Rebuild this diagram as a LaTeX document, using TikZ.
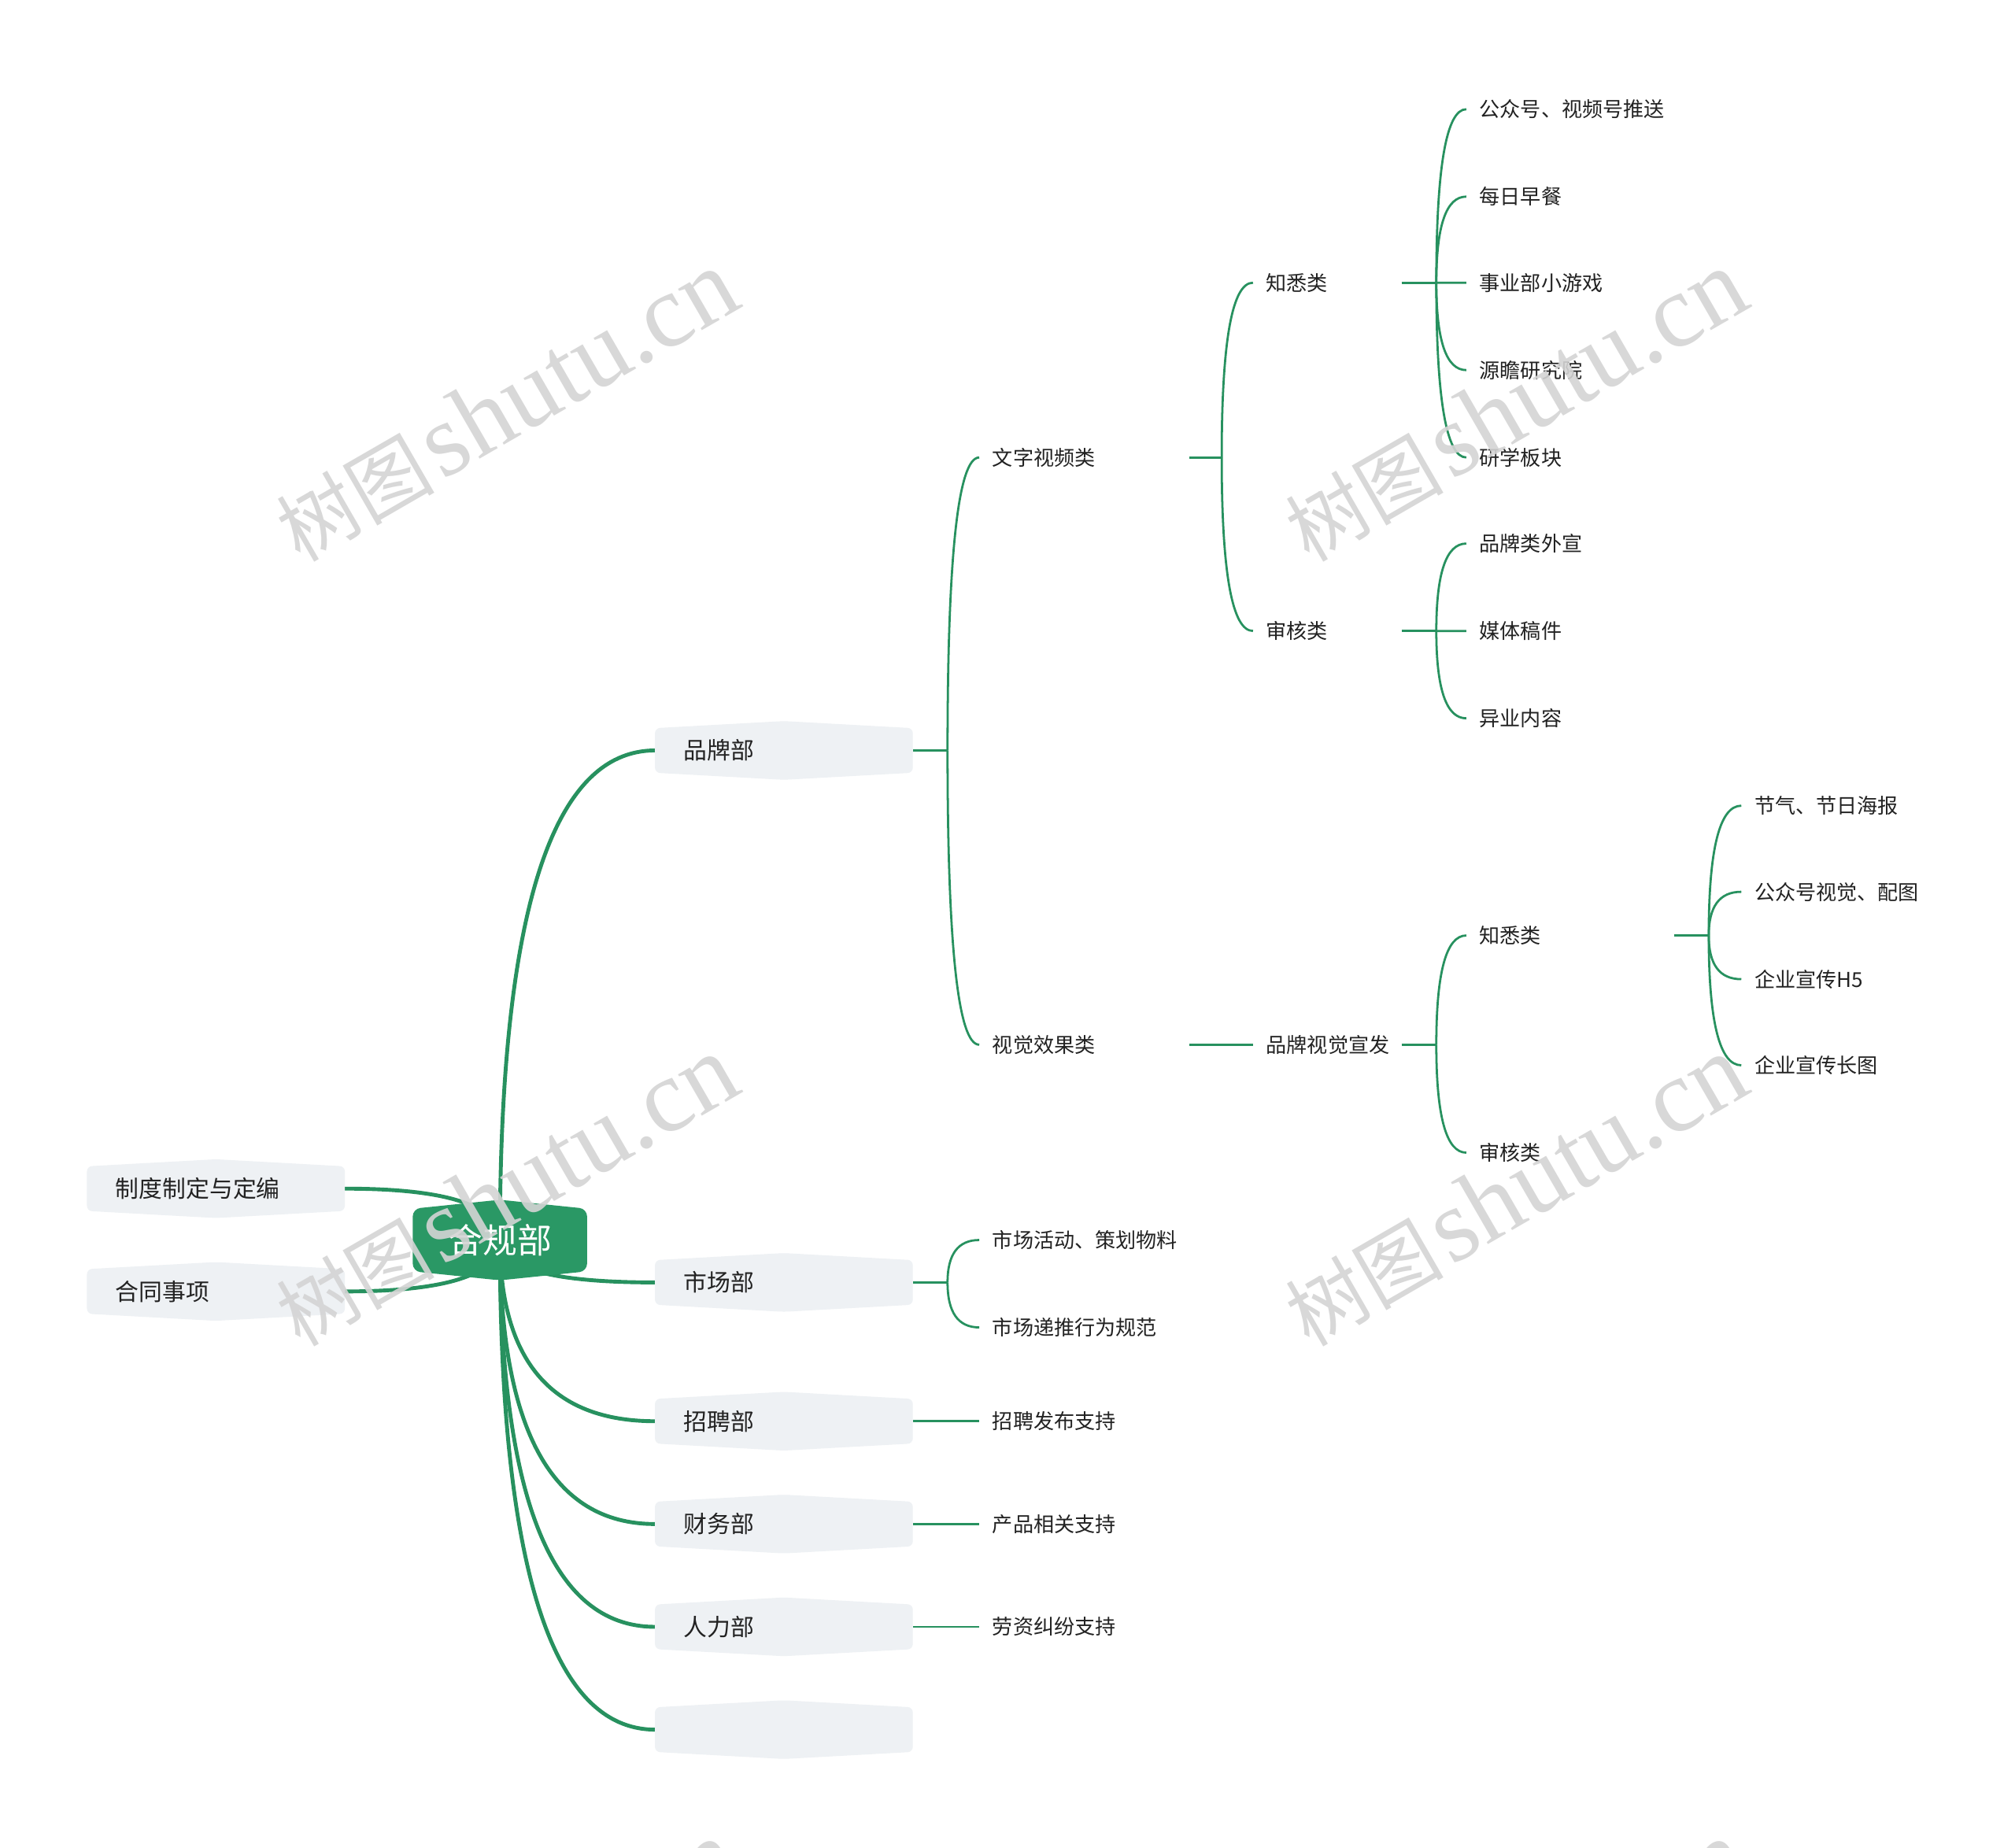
\documentclass[tikz,border=0pt]{standalone}
\usepackage{fontspec}
\setmainfont{Noto Sans CJK SC}
\newfontfamily\wmfont{Liberation Serif}
\usetikzlibrary{calc}
\definecolor{lgreen}{HTML}{27915F}
\definecolor{rootfill}{HTML}{2A9865}
\definecolor{boxfill}{HTML}{EEF1F4}
\definecolor{txt}{HTML}{222222}
\definecolor{wmgray}{HTML}{D4D4D4}
\pgfdeclarelayer{lines}\pgfdeclarelayer{boxes}\pgfdeclarelayer{wm}
\pgfsetlayers{lines,boxes,main,wm}
\newcommand\qlink[3][]{\draw[#1] (#2) .. controls ($(#2)!0.6667!(#2 |- #3)$) and ($(#3)!0.6667!(#2 |- #3)$) .. (#3);}
\newcommand\hexfill[4]{\fill[#4, rounded corners=#3] (#1.west) -- (#1.north west) -- ([yshift=#2]#1.north) -- (#1.north east) -- (#1.south east) -- ([yshift=-#2]#1.south) -- (#1.south west) -- cycle;}
\newcommand\wmtext{{\fontsize{35pt}{35pt}\selectfont 树图}\hspace{0.3em}{\wmfont\fontsize{46pt}{46pt}\selectfont shutu.cn}}
\tikzset{
  thickln/.style={draw=lgreen, line width=0.06cm},
  thinln/.style={draw=lgreen, line width=0.034cm},
  rootnode/.style={minimum width=2.7cm, minimum height=0.96cm, inner sep=0pt, text=white, font=\fontsize{15.3pt}{18pt}\selectfont},
  lone/.style={minimum height=0.68cm, inner xsep=0.44cm, inner ysep=0pt, text width=3.12cm, align=left, text=txt, font=\fontsize{10.4pt}{12pt}\selectfont},
  tx/.style={anchor=west, inner xsep=0.2cm, inner ysep=0.1cm, align=left, text=txt, font=\fontsize{9.1pt}{11pt}\selectfont},
  ctwo/.style={tx, text width=2.86cm},
  cthree/.style={tx, text width=1.9cm},
  cfour/.style={tx, text width=2.82cm},
  cfive/.style={tx, text width=3cm},
  wmark/.style={text=wmgray, opacity=0.9, rotate=30, inner sep=0pt}
}
\begin{document}
\begin{tikzpicture}[x=0.02cm, y=-0.02cm]
\useasboundingbox (0,0) rectangle (1568,1438);
\begin{pgfonlayer}{lines}
\fill[white] (0,0) rectangle (1568,1438);
\end{pgfonlayer}

% root and level 1
\node[rootnode] (root) at (389,965) {合规部};
\node[lone] (zd) at (168,925) {制度制定与定编};
\node[lone] (ht) at (168,1005) {合同事项};
\node[lone] (brand) at (610,584) {品牌部};
\node[lone] (market) at (610,998) {市场部};
\node[lone] (recruit) at (610,1106) {招聘部};
\node[lone] (finance) at (610,1186) {财务部};
\node[lone] (hr) at (610,1266) {人力部};
\node[lone] (empty) at (610,1346) {};

% level 2
\node[ctwo] (wz) at (762,356) {文字视频类};
\node[ctwo] (sj) at (762,813) {视觉效果类};
\node[ctwo] (mka) at (762,965) {市场活动、策划物料};
\node[ctwo] (mkb) at (762,1033) {市场递推行为规范};
\node[ctwo] (rca) at (762,1106) {招聘发布支持};
\node[ctwo] (fia) at (762,1186) {产品相关支持};
\node[ctwo] (hra) at (762,1266) {劳资纠纷支持};

% level 3
\node[cthree] (zxa) at (975,220) {知悉类};
\node[cthree] (sha) at (975,491) {审核类};
\node[cthree] (pp) at (975,813) {品牌视觉宣发};

% level 4
\node[cfour] (za1) at (1141,85) {公众号、视频号推送};
\node[cfour] (za2) at (1141,153) {每日早餐};
\node[cfour] (za3) at (1141,220) {事业部小游戏};
\node[cfour] (za4) at (1141,288) {源瞻研究院};
\node[cfour] (za5) at (1141,356) {研学板块};
\node[cfour] (sa1) at (1141,423) {品牌类外宣};
\node[cfour] (sa2) at (1141,491) {媒体稿件};
\node[cfour] (sa3) at (1141,559) {异业内容};
\node[cfour] (zxb) at (1141,728) {知悉类};
\node[cfour] (shb) at (1141,897) {审核类};

% level 5
\node[cfive] (zb1) at (1355,627) {节气、节日海报};
\node[cfive] (zb2) at (1355,694) {公众号视觉、配图};
\node[cfive] (zb3) at (1355,762) {企业宣传H5};
\node[cfive] (zb4) at (1355,829) {企业宣传长图};

% box shapes
\begin{pgfonlayer}{boxes}
\hexfill{root}{0.14cm}{0.12cm}{rootfill}
\foreach \n in {zd,ht,brand,market,recruit,finance,hr,empty}{\hexfill{\n}{0.11cm}{0.08cm}{boxfill}}
\end{pgfonlayer}

% connectors
\begin{pgfonlayer}{lines}
\foreach \n in {brand,market,recruit,finance,hr,empty}{\qlink[thickln]{root.center}{\n.west}}
\foreach \n in {zd,ht}{\qlink[thickln]{root.center}{\n.east}}

\coordinate (jb) at ($(brand.east)+(27,0)$);
\draw[thinln] (brand.east) -- (jb);
\qlink[thinln]{jb}{wz.west}
\qlink[thinln]{jb}{sj.west}

\coordinate (jwz) at ($(wz.east)+(25,0)$);
\draw[thinln] (wz.east) -- (jwz);
\qlink[thinln]{jwz}{zxa.west}
\qlink[thinln]{jwz}{sha.west}

\coordinate (jzxa) at ($(zxa.east)+(27,0)$);
\draw[thinln] (zxa.east) -- (jzxa);
\foreach \n in {za1,za2,za3,za4,za5}{\qlink[thinln]{jzxa}{\n.west}}

\coordinate (jsha) at ($(sha.east)+(27,0)$);
\draw[thinln] (sha.east) -- (jsha);
\foreach \n in {sa1,sa2,sa3}{\qlink[thinln]{jsha}{\n.west}}

\draw[thinln] (sj.east) -- (pp.west);
\coordinate (jpp) at ($(pp.east)+(27,0)$);
\draw[thinln] (pp.east) -- (jpp);
\qlink[thinln]{jpp}{zxb.west}
\qlink[thinln]{jpp}{shb.west}

\coordinate (jzxb) at ($(zxb.east)+(27,0)$);
\draw[thinln] (zxb.east) -- (jzxb);
\foreach \n in {zb1,zb2,zb3,zb4}{\qlink[thinln]{jzxb}{\n.west}}

\coordinate (jm) at ($(market.east)+(27,0)$);
\draw[thinln] (market.east) -- (jm);
\qlink[thinln]{jm}{mka.west}
\qlink[thinln]{jm}{mkb.west}

\draw[thinln] (recruit.east) -- (rca.west);
\draw[thinln] (finance.east) -- (fia.west);
\draw[thinln] (hr.east) -- (hra.west);
\end{pgfonlayer}

% watermarks
\begin{pgfonlayer}{wm}
\clip (0,0) rectangle (1568,1438);
\node[wmark] (w1) at (394,316) {\wmtext};
\node[wmark] (w2) at (1179,316) {\wmtext};
\node[wmark] (w3) at (394,927) {\wmtext};
\node[wmark] (w4) at (1179,927) {\wmtext};
\node[wmark] (w5) at (394,1538) {\wmtext};
\node[wmark] (w6) at (1179,1538) {\wmtext};
\end{pgfonlayer}
\end{tikzpicture}
\end{document}
